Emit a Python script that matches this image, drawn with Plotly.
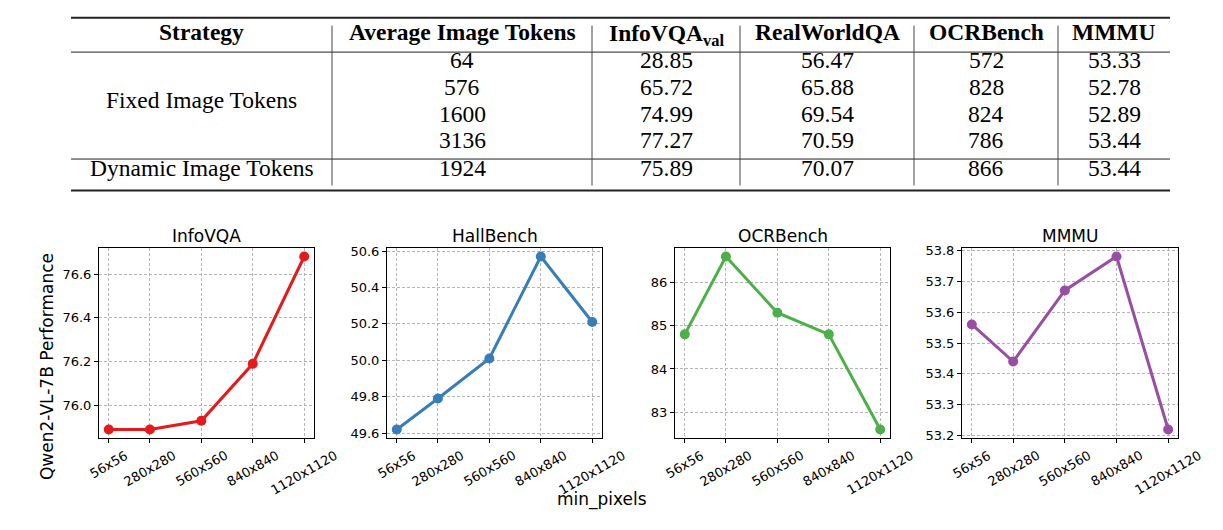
import plotly.graph_objects as go

W, H = 1223, 530

# ---------------- data ----------------
table_header = ["Strategy", "Average Image Tokens", "InfoVQA<sub>val</sub>", "RealWorldQA", "OCRBench", "MMMU"]
strategies = ["Fixed Image Tokens", "Dynamic Image Tokens"]
avg_tokens = ["64", "576", "1600", "3136", "1924"]
infovqa_val = ["28.85", "65.72", "74.99", "77.27", "75.89"]
realworldqa = ["56.47", "65.88", "69.54", "70.59", "70.07"]
ocrbench_tab = ["572", "828", "824", "786", "866"]
mmmu_tab = ["53.33", "52.78", "52.89", "53.44", "53.44"]

x_vals = [56, 280, 560, 840, 1120]
x_labels = ["56x56", "280x280", "560x560", "840x840", "1120x1120"]
titles = ["InfoVQA", "HallBench", "OCRBench", "MMMU"]
infovqa = [75.89, 75.89, 75.93, 76.19, 76.68]
hallbench = [49.62, 49.79, 50.01, 50.57, 50.21]
ocrbench = [84.8, 86.6, 85.3, 84.8, 82.6]
mmmu = [53.56, 53.44, 53.67, 53.78, 53.22]
series = [infovqa, hallbench, ocrbench, mmmu]
colors = ["#e41a1c", "#377eb8", "#4daf4a", "#984ea3"]
dticks = [0.2, 0.2, 1, 0.1]
tickfmts = [".1f", ".1f", "d", ".1f"]

# ---------------- helpers ----------------
def px(x):
    return x / W

def py(y):
    return 1 - y / H

fig = go.Figure()
annotations = []
shapes = []

# ---------------- table ----------------
serif = "Liberation Serif"
tsize = 23.5
tab_left, tab_right = 71, 1170
col_edges = [tab_left, 332, 592, 740, 914, 1058, tab_right]
col_centers = [(col_edges[i] + col_edges[i + 1]) / 2 for i in range(6)]
header_y = 28
row_ys = [56.5, 84, 111, 138, 166]

for c, h in zip(col_centers, table_header):
    annotations.append(dict(x=px(c), y=py(header_y), xref="paper", yref="paper", text="<b>" + h + "</b>",
                            showarrow=False, xanchor="center", yanchor="middle",
                            yshift=-2.5 if "<sub>" in h else 0,
                            font=dict(family=serif, size=tsize, color="black")))
annotations.append(dict(x=px(col_centers[0]), y=py((row_ys[0] + row_ys[3]) / 2), xref="paper", yref="paper",
                        text=strategies[0], showarrow=False, xanchor="center", yanchor="middle",
                        font=dict(family=serif, size=tsize, color="black")))
annotations.append(dict(x=px(col_centers[0]), y=py(row_ys[4]), xref="paper", yref="paper",
                        text=strategies[1], showarrow=False, xanchor="center", yanchor="middle",
                        font=dict(family=serif, size=tsize, color="black")))
for ci, col in enumerate([avg_tokens, infovqa_val, realworldqa, ocrbench_tab, mmmu_tab]):
    for ri, v in enumerate(col):
        annotations.append(dict(x=px(col_centers[ci + 1]), y=py(row_ys[ri]), xref="paper", yref="paper",
                                text=v, showarrow=False, xanchor="center", yanchor="middle",
                                font=dict(family=serif, size=tsize, color="black")))

for yv, lw in [(13, 2), (48, 1), (157, 1), (189, 2)]:
    shapes.append(dict(type="line", xref="paper", yref="paper", x0=px(tab_left), x1=px(tab_right),
                       y0=py(yv), y1=py(yv), line=dict(color="#222222", width=lw)))
for xv in col_edges[1:-1]:
    shapes.append(dict(type="line", xref="paper", yref="paper", x0=px(xv), x1=px(xv),
                       y0=py(21), y1=py(184), line=dict(color="#444444", width=1)))

# ---------------- line charts ----------------
boxes = [(99, 314), (387, 602), (675, 890), (962, 1178)]
top, bottom = 247.5, 441.5
sans = "DejaVu Sans"

for i in range(4):
    s = series[i]
    lo, hi = min(s), max(s)
    m = (hi - lo) * 0.05
    xa = "xaxis" if i == 0 else f"xaxis{i+1}"
    ya = "yaxis" if i == 0 else f"yaxis{i+1}"
    xr = "x" if i == 0 else f"x{i+1}"
    yr = "y" if i == 0 else f"y{i+1}"
    fig.add_trace(go.Scatter(x=x_vals, y=s, mode="lines+markers", xaxis=xr, yaxis=yr,
                             line=dict(color=colors[i], width=3),
                             marker=dict(color=colors[i], size=10), showlegend=False))
    l, r = boxes[i]
    fig.layout[xa] = dict(domain=[px(l), px(r)], anchor=yr, range=[x_vals[0] - 53.2, x_vals[-1] + 53.2],
                          tickvals=x_vals, showticklabels=False, ticks="outside", ticklen=4, tickcolor="black",
                          showline=True, linecolor="black", linewidth=1, mirror=True,
                          showgrid=True, gridcolor="#b5b5b5", gridwidth=0.8, griddash="3px,2px", zeroline=False)
    fig.layout[ya] = dict(domain=[py(bottom), py(top)], anchor=xr, range=[lo - m, hi + m],
                          dtick=dticks[i], tick0=0, tickformat=tickfmts[i], ticks="outside", ticklen=4,
                          tickcolor="black", tickfont=dict(family=sans, size=13, color="black"),
                          showline=True, linecolor="black", linewidth=1, mirror=True,
                          showgrid=True, gridcolor="#b5b5b5", gridwidth=0.8, griddash="3px,2px", zeroline=False)
    # title
    annotations.append(dict(x=px((l + r) / 2), y=py(235), xref="paper", yref="paper", text=titles[i],
                            showarrow=False, xanchor="center", yanchor="middle",
                            font=dict(family=sans, size=17, color="black")))
    # rotated x tick labels, centred under ticks
    for xv, lab in zip(x_vals, x_labels):
        annotations.append(dict(x=xv, y=py(448), xref=xr, yref="paper", text=lab, textangle=-30,
                                showarrow=False, xanchor="center", yanchor="top",
                                font=dict(family=sans, size=13, color="black")))

annotations.append(dict(x=px(47), y=py(369), xref="paper", yref="paper", text="Qwen2-VL-7B Performance",
                        textangle=-90, showarrow=False, xanchor="center", yanchor="middle",
                        font=dict(family=sans, size=17, color="black")))
annotations.append(dict(x=px(602), y=py(504), xref="paper", yref="paper", text="min_pixels",
                        showarrow=False, xanchor="center", yanchor="middle",
                        font=dict(family=sans, size=17, color="black")))

fig.update_layout(width=W, height=H, margin=dict(l=0, r=0, t=0, b=0),
                  paper_bgcolor="white", plot_bgcolor="white",
                  annotations=annotations, shapes=shapes)

fig.write_html("out.html")
